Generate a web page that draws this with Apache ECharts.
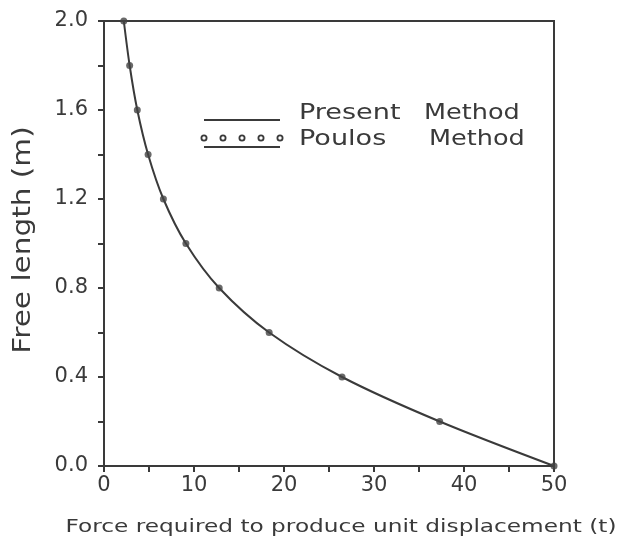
<!DOCTYPE html>
<html>
<head>
<meta charset="utf-8">
<script src="https://cdn.jsdelivr.net/npm/echarts@6/dist/echarts.min.js"></script>
<style>
  html, body { margin: 0; padding: 0; background: #fff; }
  #chart { width: 629px; height: 547px; }
</style>
</head>
<body>
<div id="chart"></div>
<script>
// Free length levels (m) and the force needed for a unit displacement (t)
var freeLength = [2.0, 1.8, 1.6, 1.4, 1.2, 1.0, 0.8, 0.6, 0.4, 0.2, 0.0];
var presentForce = [2.2, 2.85, 3.7, 4.9, 6.6, 9.1, 12.8, 18.35, 26.45, 37.3, 50];
var poulosForce = [2.2, 2.85, 3.7, 4.9, 6.6, 9.1, 12.8, 18.35, 26.45, 37.3, 50];

var xTicks = [0, 10, 20, 30, 40, 50];
var yTicks = [0.0, 0.4, 0.8, 1.2, 1.6, 2.0];

var xTitle = 'Force required to produce unit displacement (t)';
var yTitle = 'Free length (m)';

var ink = '#3a3a3a';
var font = '"DejaVu Sans", sans-serif';
// the lettering is a wide plotter face, so text is stretched sideways
var stretch = 1.23;

function pairs(xs, ys) {
  return xs.map(function (x, i) { return [x, ys[i]]; });
}

function label(text, x, y, size, extra) {
  var el = {
    type: 'text', x: x, y: y, scaleX: stretch,
    style: { text: text, fill: ink, font: size + 'px ' + font, textVerticalAlign: 'middle' }
  };
  for (var k in (extra || {})) el[k] = extra[k];
  return el;
}

var chart = echarts.init(document.getElementById('chart'));
chart.setOption({
  backgroundColor: '#fff',
  animation: false,
  grid: {
    left: 104, top: 21, right: 75, bottom: 81,
    show: true, borderColor: ink, borderWidth: 2, backgroundColor: 'transparent'
  },
  xAxis: {
    type: 'value',
    min: xTicks[0], max: xTicks[xTicks.length - 1], interval: 10,
    axisLine: { lineStyle: { color: ink, width: 2 } },
    axisTick: { show: true, inside: false, length: 6, lineStyle: { color: ink, width: 2 } },
    minorTick: { show: true, splitNumber: 2, length: 6, lineStyle: { color: ink, width: 2 } },
    axisLabel: { color: ink, fontFamily: font, fontSize: 21, margin: 9 },
    splitLine: { show: false }
  },
  yAxis: {
    type: 'value',
    min: yTicks[0], max: yTicks[yTicks.length - 1], interval: 0.4,
    axisLine: { lineStyle: { color: ink, width: 2 } },
    axisTick: { show: true, inside: false, length: 6, lineStyle: { color: ink, width: 2 } },
    minorTick: { show: true, splitNumber: 2, length: 6, lineStyle: { color: ink, width: 2 } },
    axisLabel: {
      color: ink, fontFamily: font, fontSize: 21, margin: 16,
      formatter: function (v) { return v.toFixed(1); }
    },
    splitLine: { show: false }
  },
  series: [
    {
      name: 'Present Method',
      type: 'line',
      data: pairs(presentForce, freeLength),
      smooth: 0.3,
      showSymbol: false,
      lineStyle: { color: ink, width: 2 },
      z: 2
    },
    {
      name: 'Poulos Method',
      type: 'scatter',
      data: pairs(poulosForce, freeLength),
      symbol: 'circle',
      symbolSize: 7,
      itemStyle: { color: '#444' },
      z: 3
    }
  ],
  graphic: [
    // axis titles
    label(xTitle, 341, 527, 18, { scaleX: 1.29, style: { text: xTitle, fill: ink, font: '18px ' + font, textAlign: 'center', textVerticalAlign: 'middle' } }),
    label(yTitle, 24, 240, 24, { rotation: Math.PI / 2, style: { text: yTitle, fill: ink, font: '24px ' + font, textAlign: 'center', textVerticalAlign: 'middle' } }),
    // key: solid line for the present method
    { type: 'line', shape: { x1: 204, y1: 120, x2: 280, y2: 120 }, style: { stroke: ink, lineWidth: 2 } },
    // key: open circles over a line for the Poulos method
    { type: 'circle', shape: { cx: 204, cy: 138, r: 2.6 }, style: { fill: '#fff', stroke: ink, lineWidth: 1.8 } },
    { type: 'circle', shape: { cx: 223, cy: 138, r: 2.6 }, style: { fill: '#fff', stroke: ink, lineWidth: 1.8 } },
    { type: 'circle', shape: { cx: 242, cy: 138, r: 2.6 }, style: { fill: '#fff', stroke: ink, lineWidth: 1.8 } },
    { type: 'circle', shape: { cx: 261, cy: 138, r: 2.6 }, style: { fill: '#fff', stroke: ink, lineWidth: 1.8 } },
    { type: 'circle', shape: { cx: 280, cy: 138, r: 2.6 }, style: { fill: '#fff', stroke: ink, lineWidth: 1.8 } },
    { type: 'line', shape: { x1: 204, y1: 147, x2: 280, y2: 147 }, style: { stroke: ink, lineWidth: 2 } },
    label('Present', 299, 113, 22),
    label('Method', 424, 113, 22, { scaleX: 1.16 }),
    label('Poulos', 299, 139, 22),
    label('Method', 429, 139, 22, { scaleX: 1.16 })
  ]
});
</script>
</body>
</html>
